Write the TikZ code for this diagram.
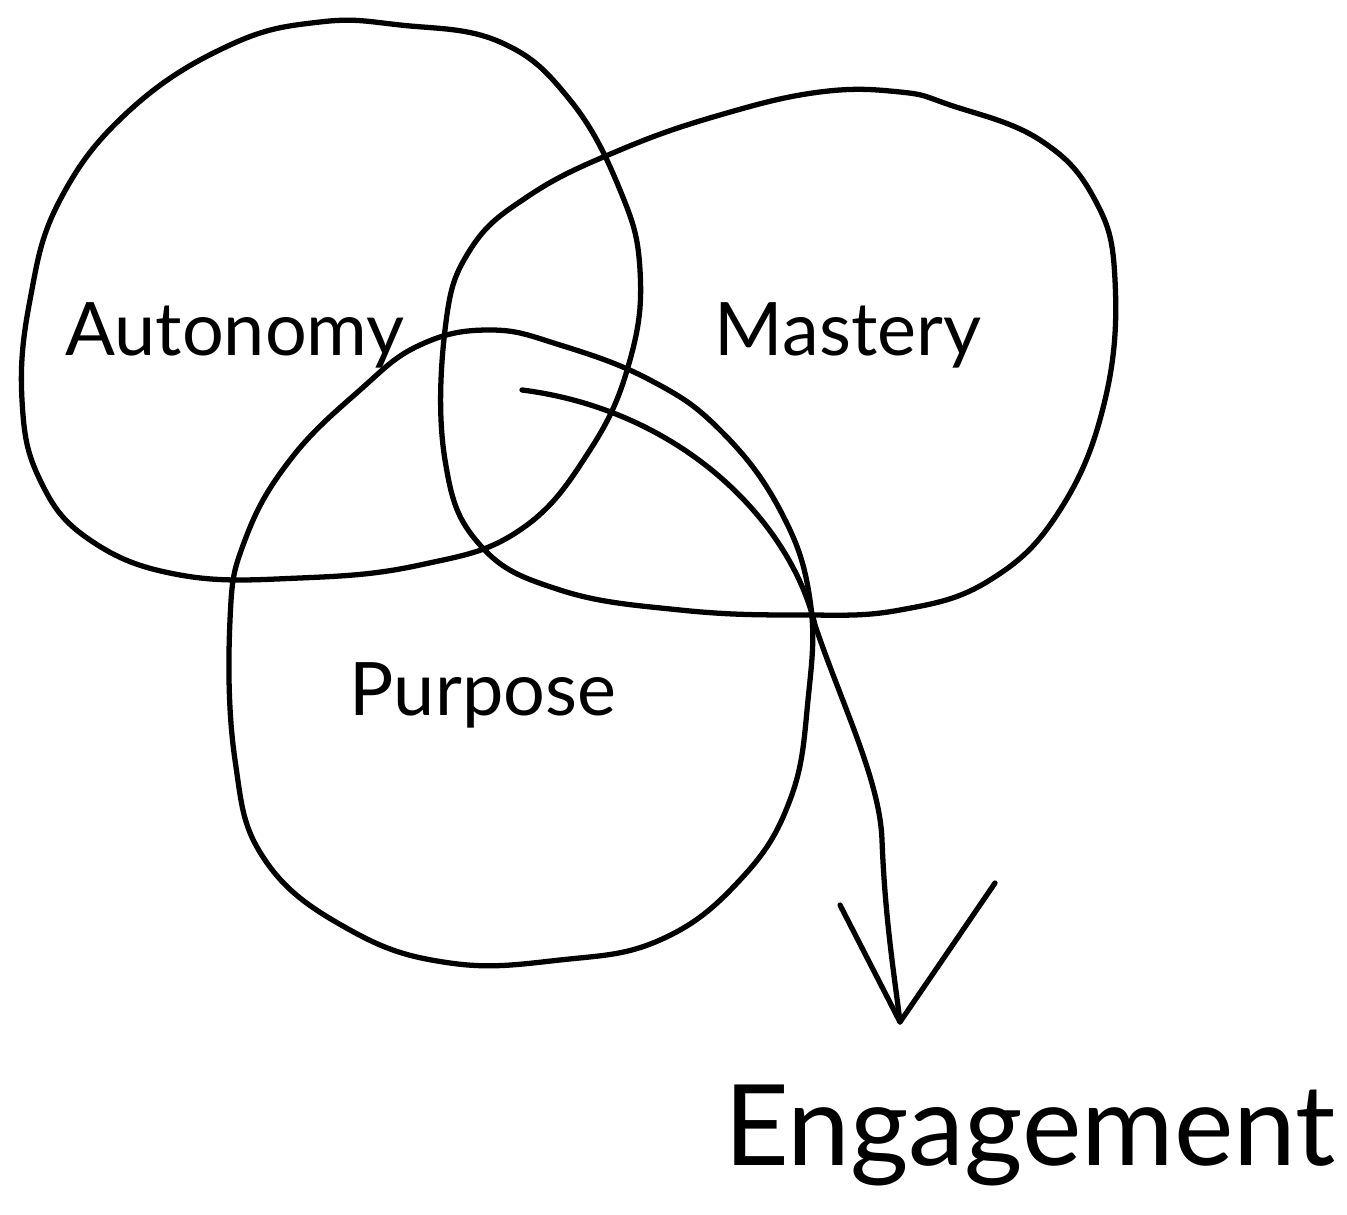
\documentclass[tikz,border=0pt]{standalone}
\usepackage{fontspec}
\setmainfont{Lato}
\usepackage{tikz}

\tikzset{
  blob/.style={line width=1.5pt, smooth cycle, tension=0.7},
  label/.style={font=\fontsize{21}{25}\selectfont},
  biglabel/.style={font=\fontsize{32}{38}\selectfont}
}

\begin{document}
\begin{tikzpicture}[x=0.1mm,y=-0.1mm]
        \useasboundingbox (0,0) rectangle (1347,1215);
        % three circles
        \draw[blob] plot coordinates {(400,25) (500,42) (570,100) (620,190) (640,270) (630,360) (590,450) (520,530) (420,565) (300,578) (180,575) (90,540) (40,480) (22,400) (30,300) (60,200) (130,110) (230,45) (320,22)};
        \draw[blob] plot coordinates {(950,105) (1040,140) (1095,200) (1115,280) (1105,400) (1060,510) (990,580) (900,610) (800,615) (680,610) (560,590) (480,545) (445,460) (445,330) (470,250) (530,195) (620,150) (720,115) (820,92) (900,92)};
        \draw[blob] plot coordinates {(490,330) (560,345) (650,380) (720,430) (780,510) (810,600) (808,700) (790,800) (740,880) (660,940) (560,960) (450,963) (350,930) (265,860) (235,760) (230,620) (245,540) (290,460) (360,390) (420,345)};
        \node[label] (auto) at (235,335) {Autonomy};
        \node[label] (mast) at (848,335) {Mastery};
        \node[label] (purp) at (483,695) {Purpose};
        \node[biglabel] (eng) at (1030,1135) {Engagement};
        % arrow down to engagement
        \coordinate (start) at (522,390);
        \coordinate (tip) at (900,1022);
        \draw[line width=1.5pt, line cap=round] (start) .. controls (680,410) and (790,520) .. (815,625)
            .. controls (840,700) and (880,780) .. (882,840) .. controls (885,920) and (895,980) .. (tip);
        \draw[line width=1.5pt, line cap=round, line join=round] (840,905) -- (tip) -- (995,883);
    \end{tikzpicture}
\end{document}
